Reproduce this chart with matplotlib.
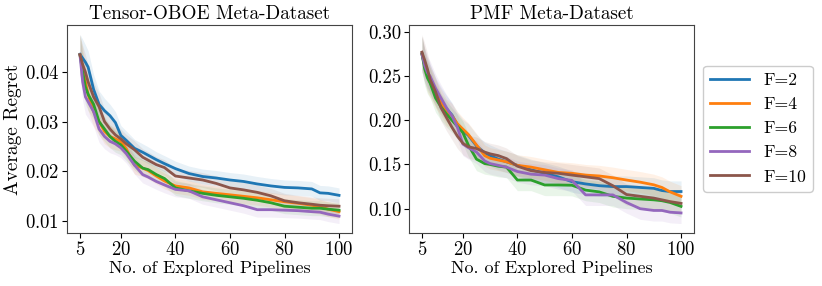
import matplotlib
matplotlib.use("Agg")
import matplotlib.pyplot as plt
import numpy as np

plt.rcParams.update({
    "font.family": "serif",
    "font.serif": ["cmr10"],
    "mathtext.fontset": "cm",
    "axes.formatter.use_mathtext": True,
    "axes.unicode_minus": False,
})

# explored pipelines (read positions)
pipelines = [5, 6, 7, 8, 10, 12, 14, 16, 18, 20, 22, 25, 28, 30, 33, 36, 40,
             45, 50, 55, 60, 65, 70, 75, 80, 85, 90, 93, 96, 100]
labels = ["F=2", "F=4", "F=6", "F=8", "F=10"]
colors = ["#1f77b4", "#ff7f0e", "#2ca02c", "#9467bd", "#8c564b"]

# Tensor-OBOE meta-dataset
oboe_f2 = [0.0436, 0.0428, 0.0420, 0.0410, 0.0365, 0.0335, 0.0322, 0.0312, 0.0298, 0.0272,
           0.0262, 0.0246, 0.0238, 0.0232, 0.0223, 0.0215, 0.0205, 0.0195, 0.0189, 0.0186,
           0.0182, 0.0179, 0.0174, 0.0170, 0.0167, 0.0166, 0.0164, 0.0156, 0.0155, 0.0151]
oboe_f4 = [0.0435, 0.0410, 0.0380, 0.0355, 0.0320, 0.0300, 0.0280, 0.0270, 0.0265, 0.0260,
           0.0245, 0.0212, 0.0206, 0.0201, 0.0190, 0.0180, 0.0170, 0.0166, 0.0158, 0.0155,
           0.0152, 0.0149, 0.0146, 0.0142, 0.0138, 0.0135, 0.0131, 0.0128, 0.0123, 0.0118]
oboe_f6 = [0.0435, 0.0400, 0.0370, 0.0355, 0.0335, 0.0300, 0.0285, 0.0270, 0.0260, 0.0253,
           0.0240, 0.0220, 0.0206, 0.0203, 0.0193, 0.0185, 0.0166, 0.0160, 0.0155, 0.0151,
           0.0148, 0.0145, 0.0141, 0.0136, 0.0129, 0.0127, 0.0125, 0.0125, 0.0123, 0.0121]
oboe_f8 = [0.0435, 0.0380, 0.0350, 0.0340, 0.0320, 0.0285, 0.0270, 0.0260, 0.0255, 0.0247,
           0.0235, 0.0212, 0.0193, 0.0188, 0.0179, 0.0172, 0.0163, 0.0160, 0.0148, 0.0142,
           0.0136, 0.0130, 0.0122, 0.0122, 0.0121, 0.0120, 0.0118, 0.0117, 0.0113, 0.0109]
oboe_f10 = [0.0435, 0.0415, 0.0400, 0.0380, 0.0350, 0.0330, 0.0300, 0.0285, 0.0273, 0.0265,
            0.0255, 0.0243, 0.0228, 0.0222, 0.0213, 0.0207, 0.0190, 0.0186, 0.0182, 0.0175,
            0.0166, 0.0162, 0.0157, 0.0150, 0.0140, 0.0136, 0.0133, 0.0131, 0.0130, 0.0129]
oboe_spread = [0.0040, 0.0038, 0.0035, 0.0033, 0.0030, 0.0027, 0.0025, 0.0023, 0.0022, 0.0020,
               0.0019, 0.0018, 0.0017, 0.0017, 0.0016, 0.0016, 0.0015, 0.0015, 0.0015, 0.0015,
               0.0015, 0.0015, 0.0015, 0.0015, 0.0015, 0.0015, 0.0015, 0.0015, 0.0015, 0.0015]

# PMF meta-dataset
pmf_f2 = [0.275, 0.262, 0.252, 0.246, 0.232, 0.222, 0.213, 0.206, 0.195, 0.188,
          0.183, 0.171, 0.163, 0.160, 0.156, 0.153, 0.149, 0.144, 0.140, 0.136,
          0.1305, 0.128, 0.126, 0.125, 0.125, 0.124, 0.123, 0.1205, 0.1194, 0.1194]
pmf_f4 = [0.275, 0.262, 0.250, 0.243, 0.230, 0.220, 0.209, 0.205, 0.196, 0.190,
          0.184, 0.172, 0.160, 0.157, 0.155, 0.153, 0.149, 0.147, 0.144, 0.141,
          0.140, 0.138, 0.137, 0.135, 0.1324, 0.130, 0.127, 0.124, 0.119, 0.114]
pmf_f6 = [0.275, 0.258, 0.248, 0.242, 0.225, 0.215, 0.207, 0.200, 0.193, 0.186,
          0.172, 0.156, 0.151, 0.150, 0.148, 0.147, 0.1324, 0.1324, 0.1268, 0.1268,
          0.1265, 0.121, 0.119, 0.114, 0.112, 0.111, 0.110, 0.109, 0.107, 0.1026]
pmf_f8 = [0.275, 0.262, 0.254, 0.2497, 0.236, 0.225, 0.214, 0.205, 0.192, 0.173,
          0.169, 0.164, 0.154, 0.151, 0.149, 0.147, 0.142, 0.139, 0.138, 0.134,
          0.132, 0.1156, 0.1156, 0.1156, 0.107, 0.100, 0.098, 0.098, 0.096, 0.0952]
pmf_f10 = [0.277, 0.268, 0.258, 0.246, 0.232, 0.214, 0.203, 0.192, 0.182, 0.174,
           0.170, 0.168, 0.164, 0.162, 0.160, 0.1566, 0.148, 0.143, 0.141, 0.140,
           0.138, 0.136, 0.134, 0.126, 0.116, 0.114, 0.112, 0.110, 0.108, 0.106]
pmf_spread = [0.020, 0.019, 0.018, 0.017, 0.016, 0.015, 0.015, 0.014, 0.014, 0.013,
              0.013, 0.013, 0.012, 0.012, 0.012, 0.012, 0.012, 0.012, 0.012, 0.012,
              0.012, 0.012, 0.012, 0.012, 0.012, 0.012, 0.012, 0.012, 0.012, 0.012]

fig = plt.figure(figsize=(8.22, 2.86), dpi=100)
ax1 = fig.add_axes([67 / 822, 53 / 286, 285 / 822, 208 / 286])
ax2 = fig.add_axes([409 / 822, 53 / 286, 285 / 822, 208 / 286])

panels = [
    (ax1, "Tensor-OBOE Meta-Dataset", [oboe_f2, oboe_f4, oboe_f6, oboe_f8, oboe_f10], oboe_spread),
    (ax2, "PMF Meta-Dataset", [pmf_f2, pmf_f4, pmf_f6, pmf_f8, pmf_f10], pmf_spread),
]

x = np.array(pipelines)
for ax, title, series, spread in panels:
    sp = np.array(spread)
    for vals, lab, col in zip(series, labels, colors):
        y = np.array(vals)
        ax.fill_between(x, y - sp, y + sp, color=col, alpha=0.1, linewidth=0)
        ax.plot(x, y, color=col, linewidth=2.0, label=lab)
    ax.set_title(title, fontsize=13.8, pad=4)
    ax.set_xlabel("No. of Explored Pipelines", fontsize=13, labelpad=1)
    ax.set_xticks([5, 20, 40, 60, 80, 100])
    ax.tick_params(labelsize=13.5, pad=2)
    for s in ax.spines.values():
        s.set_color("#444444")

ax1.set_ylabel("Average Regret", fontsize=14)
ax1.yaxis.set_label_coords(-0.158, 0.5)
ax1.set_yticks([0.01, 0.02, 0.03, 0.04])
ax2.set_yticks([0.10, 0.15, 0.20, 0.25, 0.30])
ax2.set_yticklabels(["0.10", "0.15", "0.20", "0.25", "0.30"])

ax2.legend(loc="center left", bbox_to_anchor=(1.032, 0.502), borderaxespad=0,
           fontsize=12.7, handlelength=2.2, framealpha=1)

fig.savefig("out.png", dpi=100)
